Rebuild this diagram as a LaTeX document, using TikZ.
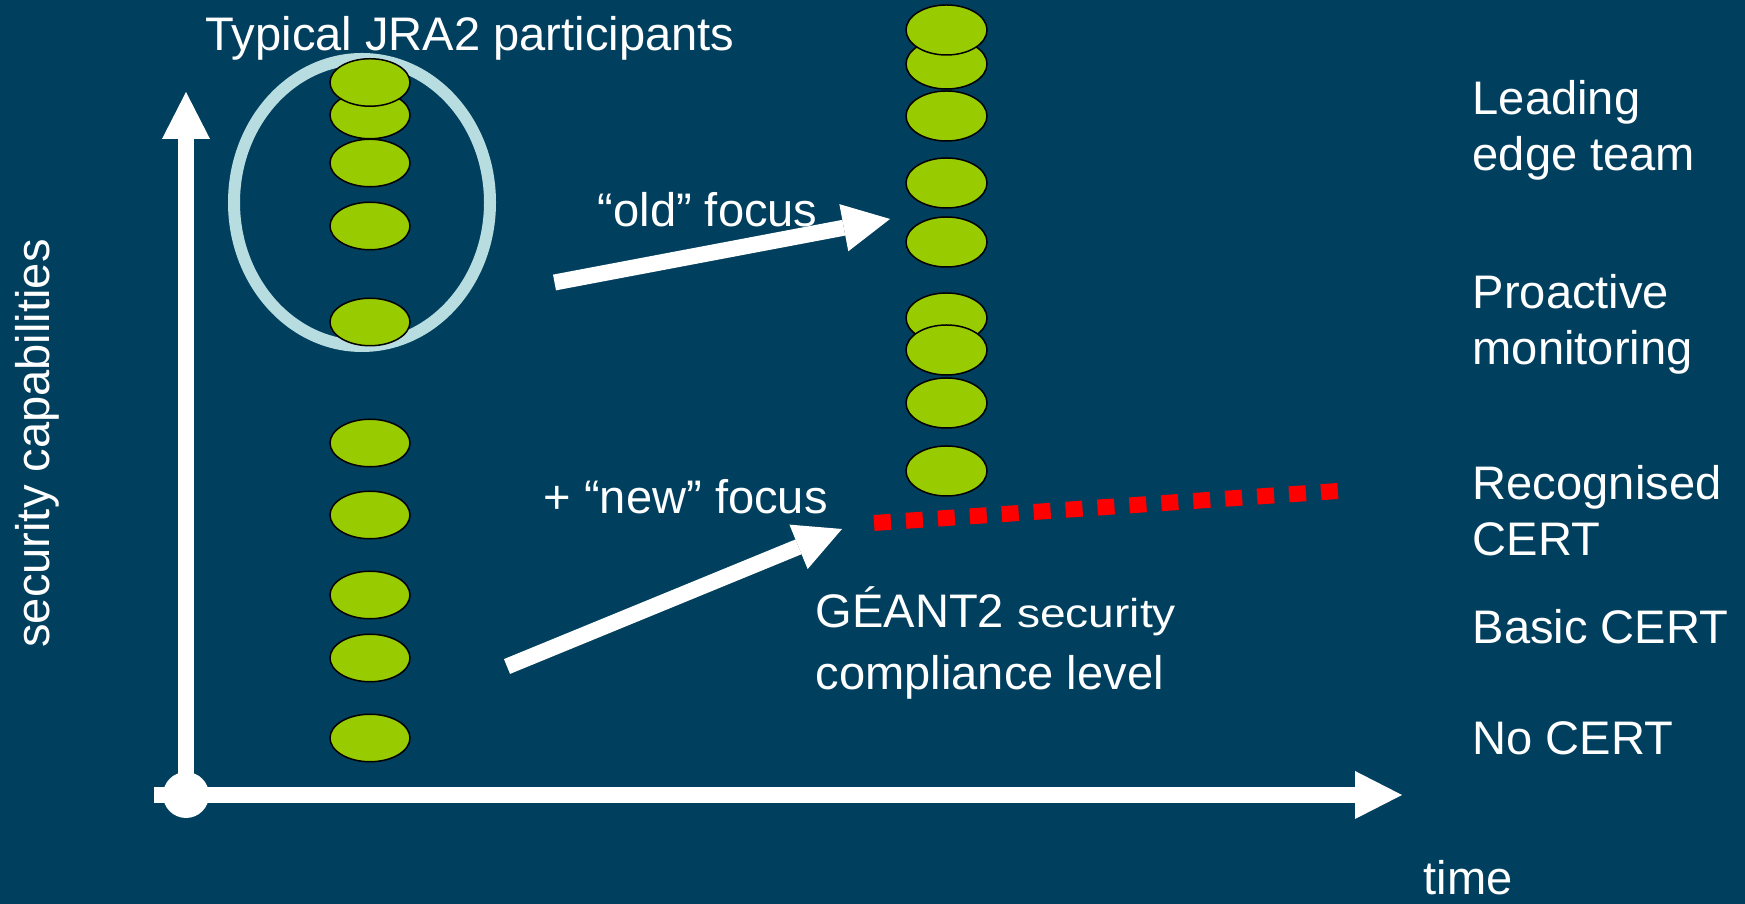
\documentclass[tikz,border=0pt]{standalone}
\usepackage{fontspec}
\setmainfont{Liberation Sans}
\newfontfamily\widesans[FakeStretch=1.14]{Liberation Sans}
\usetikzlibrary{arrows.meta,shapes.geometric}
\definecolor{slide}{RGB}{1,63,94}
\definecolor{member}{RGB}{153,204,0}
\definecolor{ring}{RGB}{183,221,225}
\tikzset{
    %Define style for the white labels
    txt/.style={
           text=white,
           font=\fontsize{13.4}{16.2}\selectfont,
           inner sep=0pt,
           align=left},
    %Define style for one participant
    team/.style={
           ellipse,
           draw=black,
           fill=member,
           line width=0.15mm,
           minimum width=8mm,
           minimum height=4.75mm,
           inner sep=0pt},
    % Define arrow style
    fat/.style={
           white,
           line width=1.6mm,
           -{Triangle[length=4.7mm,width=4.8mm,line width=0pt]}}
}

\begin{document}
\begin{tikzpicture}[x=0.1mm,y=-0.1mm]
  \useasboundingbox[fill=slide] (0,0) rectangle (1745,904);
  % axes
  \coordinate (origin) at (186,795);
  \coordinate (ytip) at (186,92);
  \coordinate (xtail) at (154,795);
  \coordinate (xtip) at (1402,795);
  \draw[fat] (origin) -- (ytip);
  \draw[fat] (xtail) -- (xtip);
  \fill[white] (origin) circle (2.3mm);
  % ring round the typical participants
  \draw[ring,line width=1.2mm] (362,202.5) ellipse [x radius=12.8mm, y radius=14.35mm];
  % participants today
  \foreach \y [count=\i] in {115,82.5,163,226,322,443,515,595,658,738}
    \node[team] (l\i) at (370,\y) {};
  % participants later on
  \foreach \y [count=\i] in {64,30,116,183,242,318,350,403,471}
    \node[team,minimum width=8.1mm,minimum height=5mm] (r\i) at (946.5,\y) {};
  % focus arrows
  \coordinate (oldtail) at (554.5,282.5);
  \coordinate (oldtip) at (890,219);
  \coordinate (newtail) at (507,666.5);
  \coordinate (newtip) at (842,529);
  \draw[fat] (oldtail) -- (oldtip);
  \draw[fat] (newtail) -- (newtip);
  % compliance level
  \coordinate (lvlstart) at (874,523);
  \coordinate (lvlend) at (1338,491);
  \draw[red,line width=1.6mm,dash pattern=on 1.7mm off 1.5mm] (lvlstart) -- (lvlend);
  % labels
  \node[txt,anchor=base west] (title) at (205,51) {Typical JRA2 participants};
  \node[txt,anchor=base west] (old) at (597,227) {“old” focus};
  \node[txt,anchor=base west] (new) at (543,514) {+ “new” focus};
  \node[txt,anchor=base west,font=\fontsize{13.4}{17.9}\selectfont] (geant) at (815,690)
    {GÉANT2 {\widesans\fontsize{11.5}{17.9}\selectfont security}\\compliance level};
  \node[txt,anchor=base,rotate=90] (yaxis) at (49,443.5) {security capabilities};
  \node[txt,anchor=base west] (time) at (1423,895) {time};
  % capability levels
  \node[txt,anchor=base west] (lead) at (1472,171) {Leading\\edge team};
  \node[txt,anchor=base west] (proactive) at (1472,365) {Proactive\\monitoring};
  \node[txt,anchor=base west] (recognised) at (1472,556) {Recognised\\CERT};
  \node[txt,anchor=base west] (basic) at (1472,644) {Basic CERT};
  \node[txt,anchor=base west] (none) at (1472,755) {No CERT};
\end{tikzpicture}
\end{document}
